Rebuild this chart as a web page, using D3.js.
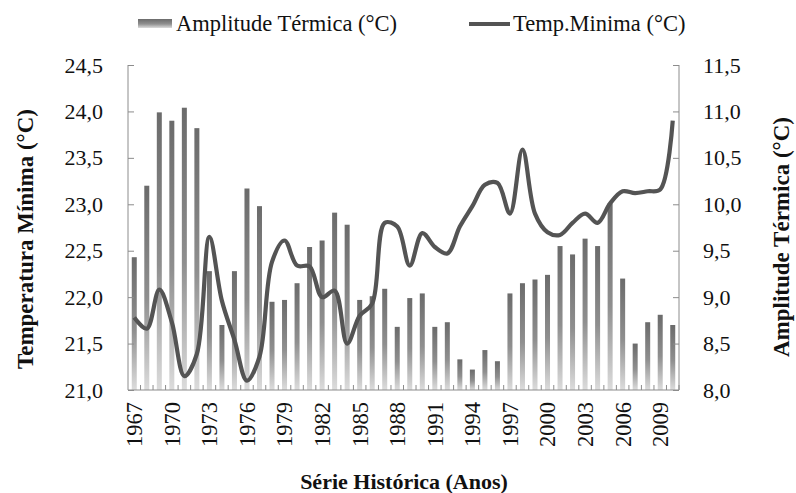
<!DOCTYPE html>
<html lang="pt">
<head>
    <meta charset="utf-8">
    <title>Série Histórica</title>
    <script src="https://cdn.jsdelivr.net/npm/d3@7/dist/d3.min.js"></script>
    <style>
        body { margin: 0; background: #fff; }
    </style>
</head>
<body>
    <script>
        // anos da série
        var years = [1967, 1968, 1969, 1970, 1971, 1972, 1973, 1974, 1975, 1976,
            1977, 1978, 1979, 1980, 1981, 1982, 1983, 1984, 1985, 1986,
            1987, 1988, 1989, 1990, 1991, 1992, 1993, 1994, 1995, 1996,
            1997, 1998, 1999, 2000, 2001, 2002, 2003, 2004, 2005, 2006,
            2007, 2008, 2009, 2010];
        // amplitude térmica (eixo direito)
        var amplitude = [9.43, 10.20, 10.99, 10.90, 11.04, 10.82, 9.28, 8.70, 9.28, 10.17,
            9.98, 8.95, 8.97, 9.15, 9.54, 9.61, 9.91, 9.78, 8.97, 9.01,
            9.09, 8.68, 8.99, 9.04, 8.68, 8.73, 8.33, 8.22, 8.43, 8.31,
            9.04, 9.15, 9.19, 9.24, 9.55, 9.46, 9.63, 9.55, 10.01, 9.20,
            8.50, 8.73, 8.81, 8.70];
        // temperatura mínima (eixo esquerdo)
        var tempMin = [21.78, 21.66, 22.08, 21.73, 21.15, 21.39, 22.65, 21.96, 21.54, 21.10,
            21.36, 22.38, 22.61, 22.34, 22.33, 22.00, 22.07, 21.50, 21.80, 21.93,
            22.80, 22.76, 22.34, 22.69, 22.54, 22.47, 22.76, 22.98, 23.21, 23.23,
            22.90, 23.59, 22.90, 22.70, 22.67, 22.80, 22.90, 22.80, 23.01, 23.14,
            23.12, 23.14, 23.16, 23.90];
        var leftTicks = [21.0, 21.5, 22.0, 22.5, 23.0, 23.5, 24.0, 24.5];
        var rightTicks = [8.0, 8.5, 9.0, 9.5, 10.0, 10.5, 11.0, 11.5];

        var svgWidth = 796, svgHeight = 493;
        var plotLeft = 128, plotRight = 679, plotTop = 65, plotBottom = 390;
        var axisColor = '#8c8c8c', fontSize = 22;
        var serif = 'Liberation Serif';
        var fmt = function (d) { return d3.format('.1f')(d).replace('.', ','); };

        var svg = d3.select('body')
            .append('svg')
            .attr('width', svgWidth)
            .attr('height', svgHeight)
            .attr('font-family', serif);

        // gradiente das barras
        var grad = svg.append('defs').append('linearGradient')
            .attr('id', 'barGrad')
            .attr('x1', 0).attr('y1', 0).attr('x2', 0).attr('y2', 1);
        grad.append('stop').attr('offset', '0%').attr('stop-color', '#6b6b6b');
        grad.append('stop').attr('offset', '55%').attr('stop-color', '#8f8f8f');
        grad.append('stop').attr('offset', '100%').attr('stop-color', '#dcdcdc');

        // escalas
        var xScale = d3.scaleBand()
            .domain(years)
            .range([plotLeft, plotRight]);
        var yLeft = d3.scaleLinear()
            .domain([21.0, 24.5])
            .range([plotBottom, plotTop]);
        var yRight = d3.scaleLinear()
            .domain([8.0, 11.5])
            .range([plotBottom, plotTop]);

        function drawBars() {
            var bw = 5;
            svg.append('g').selectAll('rect')
                .data(years)
                .enter().append('rect')
                .attr('x', function (d) { return xScale(d) + xScale.bandwidth() / 2 - bw / 2; })
                .attr('y', function (d, i) { return yRight(amplitude[i]); })
                .attr('width', bw)
                .attr('height', function (d, i) { return plotBottom - yRight(amplitude[i]); })
                .attr('fill', 'url(#barGrad)');
        }

        function drawLine() {
            var line = d3.line()
                .x(function (d, i) { return xScale(years[i]) + xScale.bandwidth() / 2; })
                .y(function (d) { return yLeft(d); })
                .curve(d3.curveCatmullRom.alpha(0.5));
            svg.append('path')
                .attr('d', line(tempMin))
                .attr('fill', 'none')
                .attr('stroke', '#545454')
                .attr('stroke-width', 4.2)
                .attr('stroke-linejoin', 'round');
        }

        function drawAxes() {
            // eixo esquerdo
            var gl = svg.append('g')
                .attr('transform', 'translate(' + plotLeft + ',0)')
                .call(d3.axisLeft(yLeft).tickValues(leftTicks).tickSize(-6).tickPadding(25).tickFormat(fmt));
            // eixo direito
            var gr = svg.append('g')
                .attr('transform', 'translate(' + plotRight + ',0)')
                .call(d3.axisRight(yRight).tickValues(rightTicks).tickSize(-6).tickPadding(24).tickFormat(fmt));
            [gl, gr].forEach(function (g) {
                g.attr('font-family', serif).attr('font-size', fontSize);
                g.select('.domain').remove();
                g.selectAll('.tick line').attr('stroke', axisColor);
                g.selectAll('.tick text').attr('fill', '#111');
            });
            gl.append('line').attr('y1', plotTop).attr('y2', plotBottom).attr('stroke', axisColor);
            gr.append('line').attr('y1', plotTop).attr('y2', plotBottom).attr('stroke', axisColor);

            // eixo x: linha, marcas entre categorias e rótulos
            var gx = svg.append('g');
            gx.append('line')
                .attr('x1', plotLeft).attr('x2', plotRight)
                .attr('y1', plotBottom).attr('y2', plotBottom)
                .attr('stroke', axisColor);
            gx.selectAll('.xt')
                .data(years)
                .enter().append('line')
                .attr('class', 'xt')
                .attr('x1', function (d) { return xScale(d) + xScale.bandwidth(); })
                .attr('x2', function (d) { return xScale(d) + xScale.bandwidth(); })
                .attr('y1', plotBottom).attr('y2', plotBottom - 5)
                .attr('stroke', axisColor);

            var labelYears = years.filter(function (d, i) { return i % 3 === 0; });
            gx.selectAll('.xl')
                .data(labelYears)
                .enter().append('text')
                .attr('class', 'xl')
                .attr('transform', function (d) {
                    return 'translate(' + (xScale(d) + xScale.bandwidth() / 2) + ',' + (plotBottom + 12) + ') rotate(-90)';
                })
                .attr('text-anchor', 'end')
                .attr('dy', '0.35em')
                .attr('fill', '#111')
                .attr('font-size', 22.5)
                .text(function (d) { return d; });
        }

        function drawTitles() {
            svg.append('text')
                .attr('x', 404).attr('y', 489)
                .attr('text-anchor', 'middle')
                .attr('font-size', 22).attr('font-weight', 'bold')
                .attr('fill', '#111')
                .text('Série Histórica (Anos)');
            svg.append('text')
                .attr('transform', 'translate(33,239) rotate(-90)')
                .attr('text-anchor', 'middle')
                .attr('font-size', 23).attr('font-weight', 'bold')
                .attr('fill', '#111')
                .text('Temperatura Mínima (°C)');
            svg.append('text')
                .attr('transform', 'translate(789,237) rotate(-90)')
                .attr('text-anchor', 'middle')
                .attr('font-size', 23).attr('font-weight', 'bold')
                .attr('fill', '#111')
                .text('Amplitude Térmica (°C)');
        }

        function drawLegend() {
            var lg = svg.append('g').attr('font-size', 22.5);
            lg.append('rect')
                .attr('x', 138).attr('y', 19).attr('width', 34).attr('height', 9)
                .attr('fill', 'url(#barGrad)');
            lg.append('text')
                .attr('x', 176).attr('y', 31)
                .attr('fill', '#111')
                .text('Amplitude Térmica (°C)');
            lg.append('line')
                .attr('x1', 469).attr('x2', 510).attr('y1', 24).attr('y2', 24)
                .attr('stroke', '#545454').attr('stroke-width', 4);
            lg.append('text')
                .attr('x', 513).attr('y', 31)
                .attr('fill', '#111')
                .text('Temp.Minima (°C)');
        }

        drawBars();
        drawLine();
        drawAxes();
        drawTitles();
        drawLegend();
    </script>
</body>
</html>
